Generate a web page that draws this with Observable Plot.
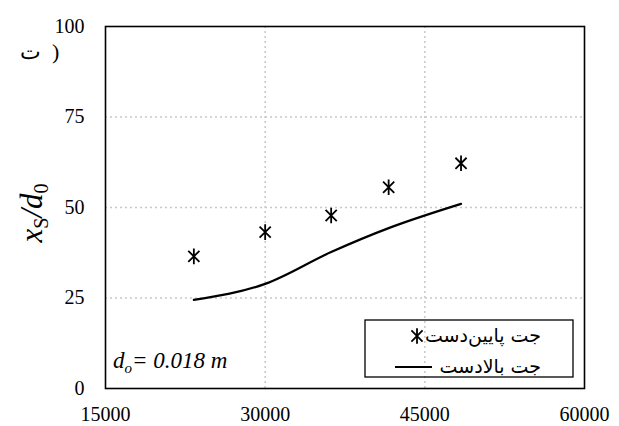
<!DOCTYPE html>
<html>
<head>
<meta charset="utf-8">
<script src="https://cdn.jsdelivr.net/npm/d3@7"></script>
<script src="https://cdn.jsdelivr.net/npm/@observablehq/plot@0.6"></script>
<style>
  html, body { margin: 0; padding: 0; background: #fff; }
</style>
</head>
<body>
<div id="chart"></div>
<script>
// Data
const reynolds = [23300, 30000, 36200, 41600, 48400];
const downstreamJet = [36.5, 43.2, 47.8, 55.6, 62.2];   // جت پایین‌دست (markers)
const upstreamJet = [24.5, 28.9, 37.7, 44.3, 51.0];      // جت بالادست (line)
const xTicks = [15000, 30000, 45000, 60000];
const yTicks = [0, 25, 50, 75, 100];
const xGrid = [30000, 45000];
const yGrid = [25, 50, 75];
const legendLabels = ["جت پایین‌دست", "جت بالادست"];

const pts = reynolds.map((x, i) => ({x, y: downstreamJet[i]}));
const line = reynolds.map((x, i) => ({x, y: upstreamJet[i]}));

// asterisk-like symbol: vertical stroke plus an X
const star = {
  draw(ctx, size) {
    const r = Math.sqrt(size) * 0.6;
    ctx.moveTo(0, -r); ctx.lineTo(0, r);
    const d = r * 0.72;
    ctx.moveTo(-d, -d); ctx.lineTo(d, d);
    ctx.moveTo(-d, d); ctx.lineTo(d, -d);
  }
};

const W = 619, H = 426;
const mL = 105, mR = 35, mT = 26, mB = 38;
const serif = "Liberation Serif";

const plot = Plot.plot({
  width: W, height: H,
  marginLeft: mL, marginRight: mR, marginTop: mT, marginBottom: mB,
  style: {fontFamily: serif, fontSize: "20px", color: "#000", background: "#fff"},
  x: {domain: [15000, 60000]},
  y: {domain: [0, 100]},
  marks: [
    Plot.gridX(xGrid, {stroke: "#c8c8c8", strokeOpacity: 1, strokeWidth: 1.5, strokeDasharray: "2,3"}),
    Plot.gridY(yGrid, {stroke: "#c8c8c8", strokeOpacity: 1, strokeWidth: 1.5, strokeDasharray: "2,3"}),
    Plot.axisX({ticks: xTicks, tickSize: 0, tickPadding: 18, tickFormat: d => String(d), label: null, fill: "#000", fontFamily: serif, fontSize: 20}),
    Plot.axisY({ticks: yTicks, tickSize: 0, tickPadding: 21, tickFormat: d => String(d), label: null, fill: "#000", fontFamily: serif, fontSize: 20}),
    Plot.line(line, {x: "x", y: "y", curve: "monotone-x", stroke: "#000", strokeWidth: 2.2}),
    Plot.dot(pts, {x: "x", y: "y", symbol: star, r: 7.3, stroke: "#000", strokeWidth: 1.8, fill: "none"}),
    Plot.frame({stroke: "#000", strokeWidth: 1.6})
  ]
});

document.getElementById("chart").appendChild(plot);

const svg = d3.select(plot);

// Y axis title x_S/d_0
const yt = svg.append("text")
  .attr("transform", `translate(42, ${(mT + H - mB) / 2 + 6}) rotate(-90)`)
  .attr("text-anchor", "middle")
  .attr("font-family", serif)
  .attr("font-size", 31)
  .attr("font-style", "italic")
  .attr("fill", "#000");
yt.append("tspan").text("x");
yt.append("tspan").attr("font-size", 20).attr("dy", 6).attr("font-style", "normal").text("S");
yt.append("tspan").attr("dy", -6).text("/d");
yt.append("tspan").attr("font-size", 20).attr("dy", 6).attr("font-style", "normal").text("0");

// panel tag
svg.append("text")
  .attr("x", 20).attr("y", 59)
  .attr("text-anchor", "start")
  .attr("font-family", serif)
  .attr("font-size", 22)
  .attr("fill", "#000")
  .text("ت\u00A0\u00A0)");

// d_o annotation
const da = svg.append("text")
  .attr("x", 113).attr("y", 368)
  .attr("text-anchor", "start")
  .attr("font-family", serif)
  .attr("font-size", 23)
  .attr("font-style", "italic")
  .attr("fill", "#000");
da.append("tspan").text("d");
da.append("tspan").attr("font-size", 15).attr("dy", 5).text("o");
da.append("tspan").attr("dy", -5).text("= 0.018 m");

// legend
const lg = svg.append("g");
lg.append("rect")
  .attr("x", 365).attr("y", 320).attr("width", 208).attr("height", 57)
  .attr("fill", "none").attr("stroke", "#000").attr("stroke-width", 1.3);
lg.append("path")
  .attr("transform", "translate(417,336)")
  .attr("d", d3.symbol(star, Math.PI * 7.3 * 7.3)())
  .attr("fill", "none").attr("stroke", "#000").attr("stroke-width", 1.8);
lg.append("line")
  .attr("x1", 395).attr("x2", 432).attr("y1", 367).attr("y2", 367)
  .attr("stroke", "#000").attr("stroke-width", 2.2);
legendLabels.forEach((t, i) => {
  lg.append("text")
    .attr("x", 541).attr("y", i === 0 ? 342 : 373)
    .attr("text-anchor", "end")
    .attr("font-family", "DejaVu Sans")
    .attr("font-size", 19)
    .attr("fill", "#000")
    .text(t);
});
</script>
</body>
</html>
